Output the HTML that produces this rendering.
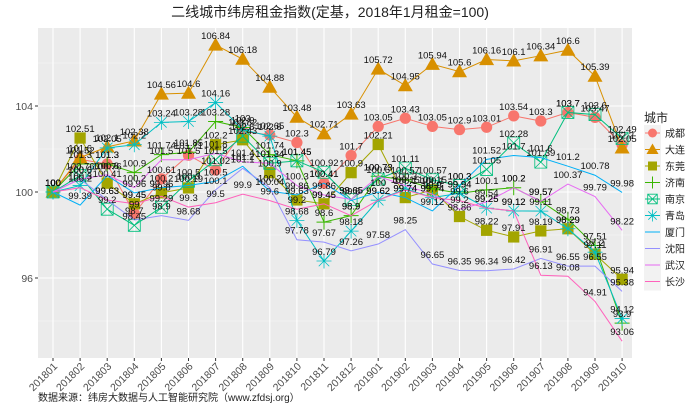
<!DOCTYPE html>
<html><head><meta charset="utf-8"><style>
body{margin:0;background:#fff;font-family:"Liberation Sans","Noto Sans CJK SC",sans-serif}
svg text{font-family:"Liberation Sans","Noto Sans CJK SC",sans-serif}
</style></head><body>
<svg id="c" width="700" height="409" xmlns="http://www.w3.org/2000/svg"></svg>
<script>
const categories=["201801","201802","201803","201804","201805","201806","201807","201808","201809","201810","201811","201812","201901","201902","201903","201904","201905","201906","201907","201908","201909","201910"];
const cities=["成都","大连","东莞","济南","南京","青岛","厦门","沈阳","武汉","长沙"];
const chengdu=[100,101.52,101.3,99,100.61,101.71,101.02,102.82,102.65,102.3,100.41,101.7,103.05,103.43,103.05,102.9,103.01,103.54,103.3,103.7,103.47,102.2];
const dalian=[100,101.6,102.1,102.38,104.56,104.6,106.84,106.18,104.88,103.48,102.71,103.63,105.72,104.95,105.94,105.6,106.16,106.1,106.34,106.6,105.39,102.05];
const dongguan=[100,102.51,100.41,99.45,99.96,100.19,102.2,102.43,100.9,99.63,99.45,100.9,102.21,99.74,100.1,98.86,98.22,97.91,98.19,98.29,97.11,95.94];
const jinan=[100,101.3,101.3,100.9,101.74,101.85,103.28,103.0,101.74,101.45,98.6,98.9,100.73,100.57,100.15,99.94,100.1,100.2,99.57,98.73,97.51,93.9];
const nanjing=[100,100.76,99.2,98.45,99.29,100.5,101.5,102.6,101.34,101.45,100.92,99.65,100.6,101.11,100.57,100.3,101.05,102.28,101.39,103.7,103.6,102.49];
const qingdao=[100,100.3,102.05,102.2,103.24,103.28,104.16,102.9,102.6,98.68,96.79,98.18,99.62,100.15,99.74,99.94,99.25,99.12,99.11,98.29,97.2,94.12];
const xiamen=[100,99.39,100.76,99.96,100.2,100.3,100.5,101.2,100.04,99.86,100.41,99.6,100.0,99.74,99.12,100.3,101.52,101.7,101.6,101.2,100.78,99.98];
const shenyang=[100,100.6,99.63,98.7,98.9,98.68,100.1,101.1,100.2,97.78,97.67,97.26,97.58,98.25,96.65,96.35,96.34,96.42,96.91,96.55,96.55,95.38];
const wuhan=[100,100.6,100.8,100.2,101.5,101.5,101.8,101.4,101.34,100.3,99.86,99.65,100.73,100.3,99.9,99.2,99.54,100.2,99.57,100.37,99.79,98.22];
const changsha=[100,100.2,99.63,99.45,99.8,99.3,99.5,99.9,99.6,99.2,99.45,98.9,99.62,100.1,99.74,99.6,99.25,99.12,96.13,96.08,94.91,93.06];
const yTicks=[96,100,104];
const series=[chengdu,dalian,dongguan,jinan,nanjing,qingdao,xiamen,shenyang,wuhan,changsha];
const colors=["#F8766D","#D89000","#A3A500","#39B600","#00BF7D","#00BFC4","#00B0F6","#9590FF","#E76BF3","#FF62BC"];
const shapes=["circle","triangle","square","plus","boxx","star",null,null,null,null];
const seriesNames=["chengdu","dalian","dongguan","jinan","nanjing","qingdao","xiamen","shenyang","wuhan","changsha"];

const NS="http://www.w3.org/2000/svg";
const svg=document.getElementById("c");
const L=38,R=632,T=28,B=358;
const x0=53,dx=27.1;
const X=i=>x0+i*dx;
const Y=v=>192-(v-100)*21.5;
function mk(tag,attrs,parent){const e=document.createElementNS(NS,tag);for(const k in attrs)e.setAttribute(k,attrs[k]);(parent||svg).appendChild(e);return e;}

const title=mk("text",{x:330,y:17,"text-anchor":"middle","font-size":"14",fill:"#222","font-family":"\"Liberation Sans\",\"Noto Serif CJK SC\",serif"});


title.textContent="二线城市纬房租金指数(定基，2018年1月租金=100)";

const panel=mk("rect",{x:L,y:T,width:R-L,height:B-T,fill:"#EBEBEB"});


for(let v=94;v<=106;v+=4){mk("line",{x1:L,x2:R,y1:Y(v),y2:Y(v),stroke:"#F5F5F5","stroke-width":0.6});}
yTicks.forEach(v=>{
 mk("line",{x1:L,x2:R,y1:Y(v),y2:Y(v),stroke:"#fff","stroke-width":1.1});
 mk("line",{x1:L-3,x2:L,y1:Y(v),y2:Y(v),stroke:"#333"});
 const t=mk("text",{x:L-5,y:Y(v)+4,"text-anchor":"end","font-size":"10.5",fill:"#4D4D4D"});
 
 
 t.textContent=v;
});
categories.forEach((c,i)=>{
 mk("line",{x1:X(i),x2:X(i),y1:T,y2:B,stroke:"#fff","stroke-width":1.1});
 mk("line",{x1:X(i),x2:X(i),y1:B,y2:B+3,stroke:"#333"});
 const t=mk("text",{x:X(i)+5,y:B+9,"text-anchor":"end","font-size":"10.5",fill:"#4D4D4D",transform:`rotate(-45 ${X(i)+5} ${B+9})`});
 
 
 t.textContent=c;
});

function shape(g,s,x,y,col,sz){
 if(s==="circle")mk("circle",{cx:x,cy:y,r:sz*0.75,fill:col},g);
 else if(s==="triangle")mk("polygon",{points:`${x},${y-sz} ${x-sz},${y+sz*0.75} ${x+sz},${y+sz*0.75}`,fill:col},g);
 else if(s==="square")mk("rect",{x:x-sz*0.75,y:y-sz*0.75,width:sz*1.5,height:sz*1.5,fill:col},g);
 else if(s==="plus"){mk("path",{d:`M${x-sz},${y}H${x+sz}M${x},${y-sz}V${y+sz}`,stroke:col,"stroke-width":1,fill:"none"},g);}
 else if(s==="boxx"){const h=sz*0.8;mk("path",{d:`M${x-h},${y-h}h${2*h}v${2*h}h${-2*h}zM${x-h},${y-h}L${x+h},${y+h}M${x+h},${y-h}L${x-h},${y+h}`,stroke:col,"stroke-width":0.8,fill:"none"},g);}
 else if(s==="star"){mk("path",{d:`M${x-sz},${y}H${x+sz}M${x},${y-sz}V${y+sz}M${x-sz*0.7},${y-sz*0.7}L${x+sz*0.7},${y+sz*0.7}M${x+sz*0.7},${y-sz*0.7}L${x-sz*0.7},${y+sz*0.7}`,stroke:col,"stroke-width":0.8,fill:"none"},g);}
}

series.forEach((d,si)=>{
 const g=mk("g",{});
 
 
 const p=mk("polyline",{points:d.map((v,i)=>X(i)+","+Y(v)).join(" "),fill:"none",stroke:colors[si],"stroke-width":1},g);
 
 
 if(shapes[si])d.forEach((v,i)=>shape(g,shapes[si],X(i),Y(v),colors[si],7.5));
});
series.forEach((d,si)=>{
 d.forEach((v,i)=>{
  const t=mk("text",{x:X(i),y:Y(v)-6,"text-anchor":"middle","font-size":"9.5",fill:"#111"});
  
  
  t.textContent=v;
 });
});

const lg=mk("g",{});


const lt=mk("text",{x:644,y:122,"font-size":"12",fill:"#222"},lg);


lt.textContent="城市";
cities.forEach((c,i)=>{
 const y=133+i*16.5;
 const e=mk("g",{},lg);
 
 
 mk("rect",{x:644,y:y-8,width:17,height:17,fill:"#F2F2F2"},e);
 mk("line",{x1:645,x2:660,y1:y,y2:y,stroke:colors[i],"stroke-width":1},e);
 if(shapes[i])shape(e,shapes[i],652.5,y,colors[i],6);
 const t=mk("text",{x:665,y:y+4,"font-size":"10",fill:"#222"},e);
 t.textContent=c;
});

const cap=mk("text",{x:38,y:401,"font-size":"10",fill:"#222","font-family":"\"Liberation Sans\",\"Noto Serif CJK SC\",serif"});


cap.textContent="数据来源：纬房大数据与人工智能研究院（www.zfdsj.org）";
</script>
</body></html>
